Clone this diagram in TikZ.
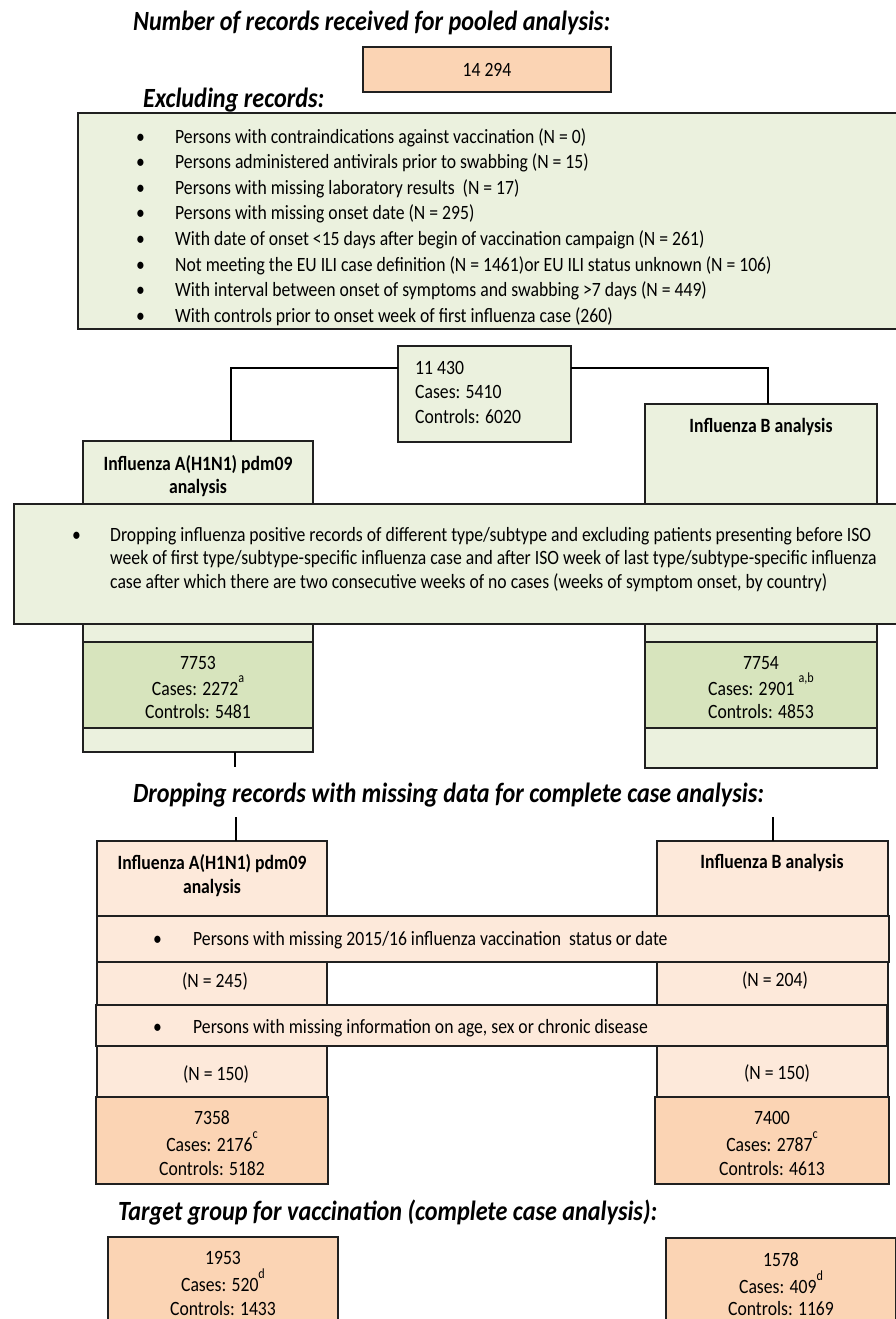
\documentclass[tikz,border=0pt]{standalone}
\usepackage{fontspec}
\setmainfont{Carlito}[FakeStretch=0.87]
\usetikzlibrary{calc}
\definecolor{peach}{HTML}{FBD4B4}
\definecolor{lpeach}{HTML}{FDE9DA}
\definecolor{lgreen}{HTML}{EBF1DE}
\definecolor{dgreen}{HTML}{D7E4BD}
\definecolor{bord}{HTML}{202020}
\newcommand\sups[1]{\raisebox{0.6em}{\fontsize{14}{14}\selectfont #1}}
\newcommand\bodyfont{\fontsize{20.3}{24}\selectfont}
\begin{document}
\begin{tikzpicture}[x=1pt,y=-1pt,
  box/.style={draw=bord, line width=1.3pt, inner sep=0pt, outer sep=0pt, anchor=north west},
  txt/.style={font=\bodyfont, inner sep=0pt, anchor=base, text=black},
  ltxt/.style={txt, anchor=base west},
  btxt/.style={txt, font=\bodyfont\bfseries},
  ttl/.style={font=\fontsize{27.8}{32}\selectfont\bfseries\itshape, inner sep=0pt, anchor=base west},
  conn/.style={draw=black, line width=1.2pt}]
\clip (0,0) rectangle (896,1319);
\fill[white] (0,0) rectangle (896,1319);

% titles
\node[ttl] (t1) at (133,31) {Number of records received for pooled analysis:};
\node[ttl] (t2) at (143,108) {Excluding records:};
\node[ttl] (t3) at (133,802) {Dropping records with missing data for complete case analysis:};
\node[ttl] (t4) at (118,1220) {Target group for vaccination (complete case analysis):};

% top box
\node[box, fill=peach, minimum width=248, minimum height=45, font=\bodyfont] (n14294) at (363,47) {14 294};

% exclusion list
\node[box, fill=lgreen, minimum width=840, minimum height=216] (excl) at (78,113) {};
\foreach \s [count=\i from 0] in {
  {Persons with contraindications against vaccination (N = 0)},
  {Persons administered antivirals prior to swabbing (N = 15)},
  {Persons with missing laboratory results\ \ (N = 17)},
  {Persons with missing onset date (N = 295)},
  {With date of onset <15 days after begin of vaccination campaign (N = 261)},
  {Not meeting the EU ILI case definition (N = 1461)or EU ILI status unknown (N = 106)},
  {With interval between onset of symptoms and swabbing >7 days (N = 449)},
  {With controls prior to onset week of first influenza case (260)}} {
  \node[ltxt] (exb\i) at (136,143+25.6*\i) {•};
  \node[ltxt] (ext\i) at (175,143+25.6*\i) {\s};
}

% 11 430
\node[box, fill=lgreen, minimum width=173, minimum height=96] (n11430) at (398,346) {};
\node[ltxt] (n11430a) at (415,374) {11 430};
\node[ltxt] (n11430b) at (415,398) {Cases: 5410};
\node[ltxt] (n11430c) at (415,423) {Controls: 6020};

% analysis columns (green)
\node[box, fill=lgreen, minimum width=230, minimum height=311] (colA) at (83,441) {};
\node[box, fill=lgreen, minimum width=232, minimum height=364] (colB) at (645,404) {};
\node[btxt] (colAa) at (198,470) {Influenza A(H1N1) pdm09};
\node[btxt] (colAb) at (198,493) {analysis};
\node[btxt] (colBa) at (761,432) {Influenza B analysis};

\draw[conn] ($(n11430.north west)+(0,22)$) -| ($(colA.north west)+(148,0)$);
\draw[conn] ($(n11430.north east)+(0,22)$) -| ($(colB.north west)+(123,0)$);

% wide dropping box
\node[box, fill=lgreen, minimum width=900, minimum height=120] (drop) at (14,504) {};
\node[ltxt] (dropb) at (72,541) {•};
\node[ltxt] (drop1) at (110,541) {Dropping influenza positive records of different type/subtype and excluding patients presenting before ISO};
\node[ltxt] (drop2) at (110,564.5) {week of first type/subtype-specific influenza case and after ISO week of last type/subtype-specific influenza};
\node[ltxt] (drop3) at (110,588) {case after which there are two consecutive weeks of no cases (weeks of symptom onset, by country)};

% results green
\node[box, fill=dgreen, minimum width=230, minimum height=86] (resA) at (83,642) {};
\node[box, fill=dgreen, minimum width=232, minimum height=86] (resB) at (645,642) {};
\node[txt] (resAa) at (198,669) {7753};
\node[txt] (resAb) at (198,695) {Cases: 2272\sups{a}};
\node[txt] (resAc) at (198,718) {Controls: 5481};
\node[txt] (resBa) at (761,669) {7754};
\node[txt] (resBb) at (761,695) {Cases: 2901 \sups{a,b}};
\node[txt] (resBc) at (761,718) {Controls: 4853};

% connectors around title 3
\coordinate (fA1) at (235,767);
\coordinate (fA2) at (236,817);
\coordinate (fB2) at (773,817);
\draw[conn] ($(colA.south west)+(152,0)$) -- (fA1);

% lower columns (peach)
\node[box, fill=lpeach, minimum width=230, minimum height=256] (colA2) at (97,841) {};
\node[box, fill=lpeach, minimum width=231, minimum height=256] (colB2) at (657,841) {};
\draw[conn] (fA2) -- ($(colA2.north west)+(139,0)$);
\draw[conn] (fB2) -- ($(colB2.north west)+(116,0)$);
\node[btxt] (colA2a) at (212,869) {Influenza A(H1N1) pdm09};
\node[btxt] (colA2b) at (212,893) {analysis};
\node[btxt] (colB2a) at (772,868) {Influenza B analysis};

\node[box, fill=lpeach, minimum width=792, minimum height=46] (row1) at (97,916) {};
\node[ltxt] (row1b) at (153,945) {•};
\node[ltxt] (row1t) at (193,945) {Persons with missing 2015/16 influenza vaccination\ \ status or date};
\node[txt] (nA1) at (215,987) {(N = 245)};
\node[txt] (nB1) at (775,986) {(N = 204)};

\node[box, fill=lpeach, minimum width=791, minimum height=41] (row2) at (96,1005) {};
\node[ltxt] (row2b) at (153,1033) {•};
\node[ltxt] (row2t) at (193,1033) {Persons with missing information on age, sex or chronic disease};
\node[txt] (nA2) at (216,1080) {(N = 150)};
\node[txt] (nB2) at (777,1079) {(N = 150)};

% final complete case boxes
\node[box, fill=peach, minimum width=232, minimum height=87] (finA) at (96,1097) {};
\node[box, fill=peach, minimum width=234, minimum height=87] (finB) at (655,1097) {};
\node[txt] (finAa) at (212,1124) {7358};
\node[txt] (finAb) at (212,1151) {Cases: 2176\sups{c}};
\node[txt] (finAc) at (212,1175) {Controls: 5182};
\node[txt] (finBa) at (772,1124) {7400};
\node[txt] (finBb) at (772,1151) {Cases: 2787\sups{c}};
\node[txt] (finBc) at (772,1175) {Controls: 4613};

% target group boxes
\node[box, fill=peach, minimum width=230, minimum height=100] (tgA) at (108,1237) {};
\node[box, fill=peach, minimum width=230, minimum height=100] (tgB) at (666,1238) {};
\node[txt] (tgAa) at (223,1264) {1953};
\node[txt] (tgAb) at (223,1291) {Cases: 520\sups{d}};
\node[txt] (tgAc) at (223,1315) {Controls: 1433};
\node[txt] (tgBa) at (781,1266) {1578};
\node[txt] (tgBb) at (781,1293) {Cases: 409\sups{d}};
\node[txt] (tgBc) at (781,1315) {Controls: 1169};
\end{tikzpicture}
\end{document}
